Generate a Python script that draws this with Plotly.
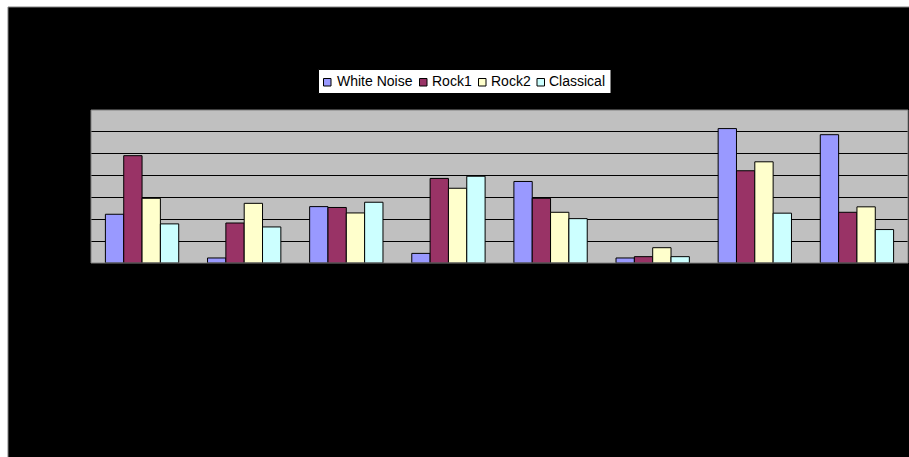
import plotly.graph_objects as go

categories = ["1", "2", "3", "4", "5", "6", "7", "8"]
white_noise = [2.23, 0.23, 2.58, 0.44, 3.73, 0.23, 6.15, 5.87]
rock1 = [4.91, 1.83, 2.54, 3.87, 2.96, 0.29, 4.22, 2.32]
rock2 = [2.96, 2.73, 2.29, 3.42, 2.32, 0.70, 4.63, 2.57]
classical = [1.79, 1.65, 2.78, 3.97, 2.03, 0.29, 2.28, 1.53]
series_names = ["White Noise", "Rock1", "Rock2", "Classical"]
series_colors = ["#9999FF", "#993366", "#FFFFCC", "#CCFFFF"]
series_values = [white_noise, rock1, rock2, classical]

W, H = 909, 457
ML, MR, MT, MB = 91, 1, 110, 194
PW = W - ML - MR
PH = H - MT - MB


def px2x(px):
    return (px - ML) / PW


def py2y(py):
    return (H - MB - py) / PH


fig = go.Figure()
for name, color, vals in zip(series_names, series_colors, series_values):
    fig.add_trace(go.Bar(
        x=categories, y=vals, name=name,
        marker=dict(color=color, line=dict(color="#000000", width=1)),
        showlegend=False,
    ))

shapes = [
    # black background card
    dict(type="rect", xref="paper", yref="paper", layer="below",
         x0=px2x(8), x1=px2x(W + 2), y0=py2y(7), y1=py2y(H + 2),
         fillcolor="#000000", line=dict(color="#808080", width=1)),
    # plot area fill
    dict(type="rect", xref="paper", yref="paper", layer="below",
         x0=0, x1=1, y0=0, y1=1, fillcolor="#C0C0C0",
         line=dict(width=0)),
    # plot area border
    dict(type="rect", xref="paper", yref="paper", layer="above",
         x0=0, x1=1, y0=0, y1=1, fillcolor="rgba(0,0,0,0)",
         line=dict(color="#808080", width=1)),
    # legend box
    dict(type="rect", xref="paper", yref="paper", layer="above",
         x0=px2x(318.5), x1=px2x(611), y0=py2y(69.5), y1=py2y(93.5),
         fillcolor="#FFFFFF", line=dict(color="#000000", width=1)),
]

annotations = []
sq_x = [323.5, 419.5, 478.5, 537]
txt_x = [336, 431, 489.5, 548]
for name, color, sx, tx in zip(series_names, series_colors, sq_x, txt_x):
    shapes.append(dict(type="rect", xref="paper", yref="paper", layer="above",
                       x0=px2x(sx), x1=px2x(sx + 7.5), y0=py2y(78.5), y1=py2y(86),
                       fillcolor=color, line=dict(color="#000000", width=1)))
    annotations.append(dict(xref="paper", yref="paper", x=px2x(tx), y=py2y(80.8),
                            xanchor="left", yanchor="middle", showarrow=False,
                            text=name, xshift=-1,
                            font=dict(family="Liberation Sans, Arial", size=14,
                                      color="#000000")))

fig.update_layout(
    width=W, height=H,
    margin=dict(l=ML, r=MR, t=MT, b=MB),
    paper_bgcolor="#FFFFFF",
    plot_bgcolor="rgba(0,0,0,0)",
    barmode="group",
    bargap=0.282,
    bargroupgap=0,
    shapes=shapes,
    annotations=annotations,
    showlegend=False,
    xaxis=dict(showticklabels=False, showgrid=False, zeroline=False,
               showline=False, ticks=""),
    yaxis=dict(range=[0, 7], dtick=1, showticklabels=False, showgrid=True,
               gridcolor="#000000", gridwidth=1, zeroline=True,
               zerolinecolor="#000000", zerolinewidth=1, showline=False),
)

fig.write_html("out.html")
